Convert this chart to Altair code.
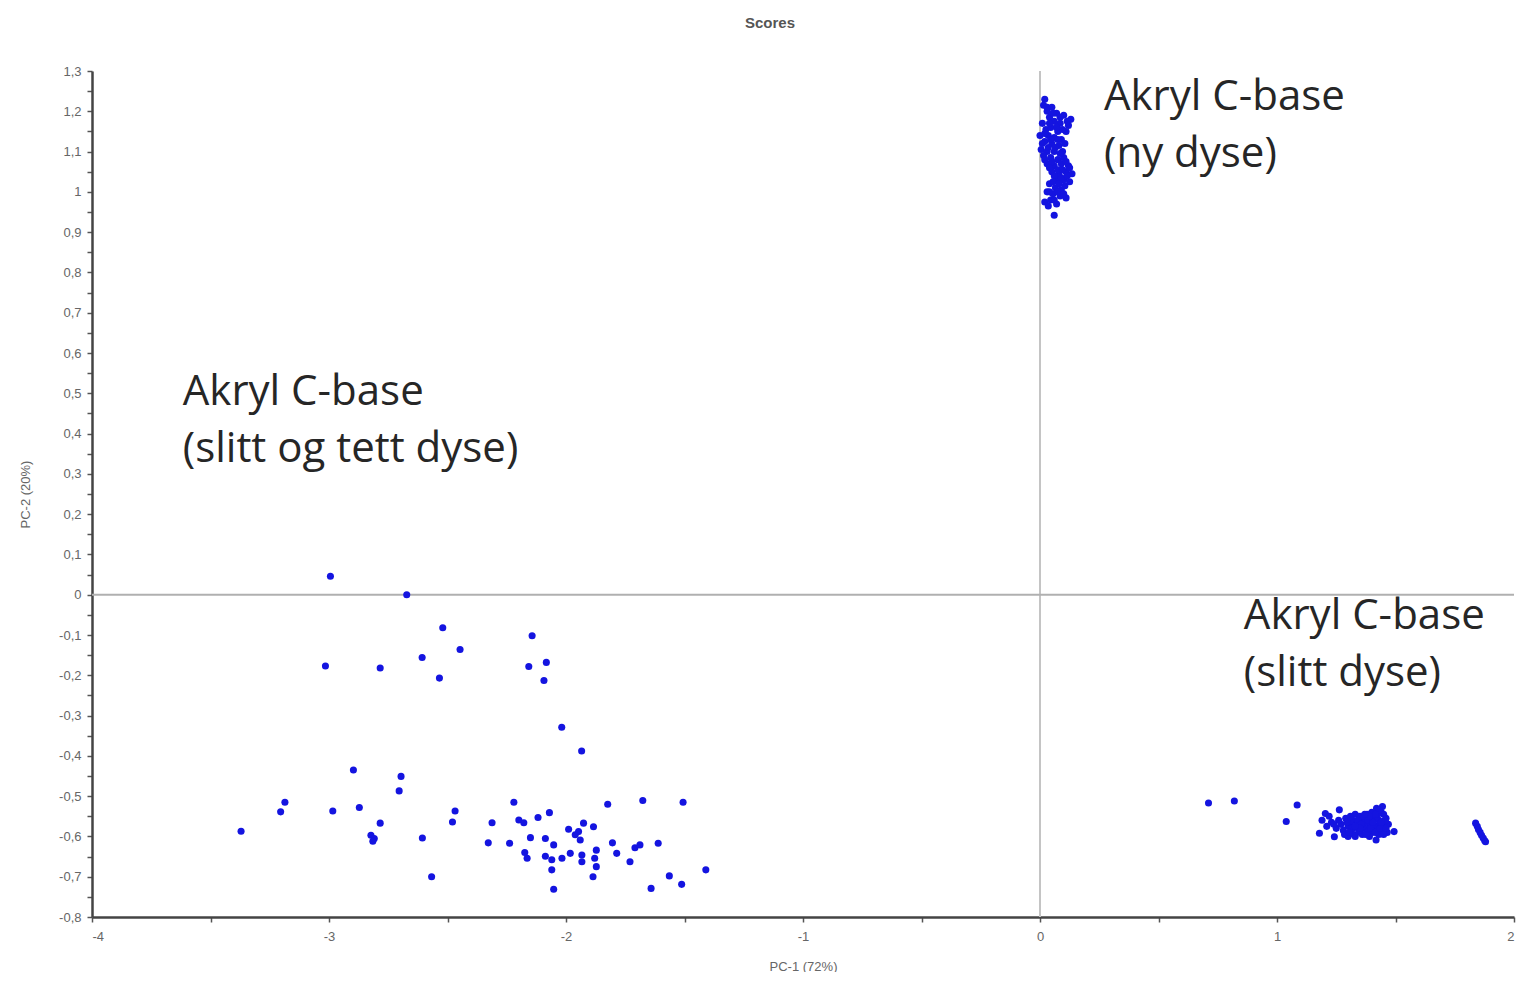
import altair as alt
import pandas as pd

# Cluster "Akryl C-base (ny dyse)"
ny_x = [0.02, 0.015, 0.03, 0.05, 0.07, 0.04, 0.10, 0.13, 0.12, 0.085, 0.06, 0.01, 0.025, 0.045,
        0.075, 0.11, 0.0, 0.035, 0.06, 0.09, 0.02, 0.05, 0.08, 0.005, 0.03, 0.06, 0.095, 0.015,
        0.045, 0.075, 0.10, 0.03, 0.06, 0.09, 0.12, 0.05, 0.08, 0.11, 0.135, 0.07, 0.10, 0.125,
        0.04, 0.065, 0.09, 0.03, 0.055, 0.085, 0.11, 0.02, 0.045, 0.07, 0.06,
        0.03, 0.055, 0.085, 0.115, 0.04, 0.07, 0.095, 0.02, 0.045, 0.075, 0.105, 0.01, 0.035,
        0.065, 0.085, 0.02, 0.05, 0.11, 0.04, 0.075, 0.095, 0.125, 0.06, 0.09, 0.115, 0.055,
        0.08, 0.105, 0.04, 0.075, 0.10, 0.06, 0.035]
ny_y = [1.23, 1.215, 1.20, 1.21, 1.195, 1.185, 1.19, 1.18, 1.165, 1.17, 1.175, 1.17, 1.155, 1.16,
        1.15, 1.15, 1.14, 1.14, 1.135, 1.13, 1.125, 1.12, 1.115, 1.105, 1.10, 1.10, 1.10, 1.09,
        1.085, 1.08, 1.085, 1.07, 1.065, 1.07, 1.065, 1.05, 1.045, 1.05, 1.045, 1.03, 1.03, 1.025,
        1.02, 1.01, 1.005, 1.0, 0.995, 0.99, 0.985, 0.975, 0.98, 0.97, 0.942,
        1.21, 1.195, 1.185, 1.175, 1.17, 1.16, 1.155, 1.145, 1.13, 1.13, 1.12, 1.12, 1.11,
        1.11, 1.095, 1.08, 1.075, 1.075, 1.06, 1.055, 1.055, 1.06, 1.04, 1.035, 1.04, 1.025,
        1.02, 1.015, 1.0, 1.0, 0.995, 0.98, 0.965]

# Cluster "Akryl C-base (slitt dyse)"
slitt_x = [0.711, 0.820, 1.085, 1.039, 1.204, 1.263, 1.179, 1.242, 1.19, 1.21, 1.23, 1.25, 1.27,
           1.29, 1.30, 1.31, 1.32, 1.33, 1.34, 1.35, 1.36, 1.37, 1.38, 1.39, 1.40, 1.41, 1.42,
           1.43, 1.44, 1.445, 1.45, 1.46, 1.465, 1.418, 1.494, 1.30, 1.33, 1.36, 1.39, 1.43,
           1.28, 1.35, 1.40, 1.42, 1.31, 1.37, 1.34, 1.44, 1.47, 1.26, 1.38, 1.41, 1.32, 1.45,
           1.295, 1.315, 1.325, 1.345, 1.355, 1.365, 1.375, 1.385, 1.395, 1.405, 1.415, 1.425,
           1.435, 1.455, 1.46, 1.45, 1.44, 1.43, 1.415, 1.39, 1.37, 1.35, 1.33, 1.31, 1.22, 1.24,
           1.285, 1.305,
           1.838, 1.845, 1.85, 1.857, 1.863, 1.87, 1.876, 1.88]
slitt_y = [-0.517, -0.512, -0.522, -0.563, -0.543, -0.534, -0.592, -0.601, -0.56, -0.575, -0.565,
           -0.58, -0.57, -0.555, -0.575, -0.59, -0.56, -0.545, -0.575, -0.59, -0.56, -0.58, -0.545,
           -0.57, -0.59, -0.555, -0.575, -0.56, -0.54, -0.526, -0.575, -0.555, -0.59, -0.609,
           -0.588, -0.60, -0.60, -0.595, -0.60, -0.595, -0.585, -0.55, -0.54, -0.53, -0.565,
           -0.565, -0.56, -0.585, -0.57, -0.56, -0.59, -0.575, -0.58, -0.545,
           -0.565, -0.58, -0.595, -0.585, -0.57, -0.55, -0.595, -0.56, -0.58, -0.565, -0.59,
           -0.545, -0.58, -0.56, -0.58, -0.595, -0.565, -0.535, -0.545, -0.55, -0.545, -0.58,
           -0.575, -0.55, -0.55, -0.57, -0.595, -0.59,
           -0.567, -0.575, -0.583, -0.59, -0.597, -0.604, -0.61, -0.613]

# Cluster "Akryl C-base (slitt og tett dyse)"
tett_x = [-2.994, -2.672, -2.520, -2.447, -2.607, -2.534, -3.015, -2.784, -2.143, -2.157, -2.083,
          -2.093, -2.018, -1.934, -2.897, -2.696, -2.704, -3.186, -3.204, -2.984, -2.872, -2.784,
          -2.823, -2.809, -2.815, -3.371, -2.606, -2.567, -2.468, -2.479, -2.220, -2.312, -2.328,
          -2.238, -2.199, -2.178, -2.118, -2.070, -2.150, -2.174, -2.164, -2.087, -2.052, -2.087,
          -2.060, -2.060, -2.052, -2.017, -1.982, -1.989, -1.961, -1.940, -1.926, -1.884, -1.947,
          -1.933, -1.933, -1.872, -1.879, -1.872, -1.886, -1.824, -1.804, -1.786, -1.730, -1.709,
          -1.688, -1.676, -1.611, -1.506, -1.564, -1.512, -1.641, -1.410]
tett_y = [0.046, 0.0, -0.082, -0.136, -0.156, -0.207, -0.177, -0.182, -0.102, -0.178, -0.168,
          -0.213, -0.329, -0.388, -0.435, -0.451, -0.487, -0.515, -0.539, -0.537, -0.528, -0.567,
          -0.597, -0.605, -0.612, -0.587, -0.604, -0.700, -0.537, -0.564, -0.515, -0.566, -0.616,
          -0.617, -0.559, -0.566, -0.553, -0.541, -0.603, -0.640, -0.654, -0.605, -0.621, -0.649,
          -0.658, -0.683, -0.731, -0.654, -0.642, -0.582, -0.596, -0.609, -0.567, -0.576, -0.588,
          -0.646, -0.663, -0.634, -0.654, -0.675, -0.700, -0.520, -0.616, -0.642, -0.663, -0.628,
          -0.621, -0.511, -0.617, -0.515, -0.698, -0.719, -0.729, -0.683]

# Annotations
note_text = ["Akryl C-base", "(ny dyse)", "Akryl C-base", "(slitt og tett dyse)",
             "Akryl C-base", "(slitt dyse)"]
note_x = [0.27, 0.27, -3.617, -3.617, 0.86, 0.86]
note_y = [1.235, 1.093, 0.503, 0.362, -0.053, -0.195]

x_ticks = [-4, -3.5, -3, -2.5, -2, -1.5, -1, -0.5, 0, 0.5, 1, 1.5, 2]
y_ticks = [-0.8, -0.75, -0.7, -0.65, -0.6, -0.55, -0.5, -0.45, -0.4, -0.35, -0.3, -0.25, -0.2,
           -0.15, -0.1, -0.05, 0, 0.05, 0.1, 0.15, 0.2, 0.25, 0.3, 0.35, 0.4, 0.45, 0.5, 0.55,
           0.6, 0.65, 0.7, 0.75, 0.8, 0.85, 0.9, 0.95, 1.0, 1.05, 1.1, 1.15, 1.2, 1.25, 1.3]

points = pd.DataFrame({"pc1": ny_x + slitt_x + tett_x, "pc2": ny_y + slitt_y + tett_y})
notes = pd.DataFrame({"pc1": note_x, "pc2": note_y, "label": note_text})

W, H = 1422, 846
x_scale = alt.Scale(domain=[-4, 2], nice=False, zero=False)
y_scale = alt.Scale(domain=[-0.8, 1.3], nice=False, zero=False)

axis_common = dict(grid=False, domainColor="#444", domainWidth=2.5, tickColor="#555",
                   tickSize=5, tickWidth=1.5, labelFont="Liberation Sans", labelFontSize=13,
                   labelColor="#666", titleFont="Liberation Sans", titleFontSize=13,
                   titleFontWeight="normal", titleColor="#666")

x_axis = alt.Axis(values=x_ticks, title="PC-1 (72%)", labelPadding=8,
                  labelExpr="datum.value % 1 == 0 ? replace(format(datum.value, 'd'), '\u2212', '-') : ''",
                  titleY=49, titleBaseline="middle", **axis_common)
y_axis = alt.Axis(values=y_ticks, title="PC-2 (20%)", labelPadding=6,
                  labelExpr="abs(datum.value*10 - round(datum.value*10)) < 0.01 ? "
                            "replace(replace(format(datum.value, '.1~f'), '.', ','), '\u2212', '-') : ''",
                  titleX=-67, titleY=H / 2, titleAngle=-90, titleBaseline="middle", **axis_common)

X = alt.X("pc1:Q", scale=x_scale, axis=x_axis)
Y = alt.Y("pc2:Q", scale=y_scale, axis=y_axis)

vline = alt.Chart(pd.DataFrame({"pc1": [0]})).mark_rule(color="#c4c4c4", strokeWidth=2).encode(x=X)
hline = alt.Chart(pd.DataFrame({"pc2": [0]})).mark_rule(color="#b0b0b0", strokeWidth=2).encode(y=Y)

dots = alt.Chart(points).mark_circle(size=50, color="#1414e0", opacity=1).encode(x=X, y=Y)

text = alt.Chart(notes).mark_text(align="left", baseline="middle", font="Open Sans",
                                  fontSize=42, color="#262626").encode(x=X, y=Y, text="label:N")

chart = alt.layer(vline, hline, dots, text).properties(
    width=W, height=H,
    background="white",
    title=alt.TitleParams("Scores", font="Liberation Sans", fontSize=15, fontWeight="bold",
                          color="#555", offset=34, dx=-33),
    autosize=alt.AutoSizeParams(type="none"),
    padding={"left": 84, "top": 63, "right": 2, "bottom": 55},
).configure_view(strokeWidth=0, stroke=None)

chart.save("out.html", embed_options={"renderer": "svg", "actions": False})
